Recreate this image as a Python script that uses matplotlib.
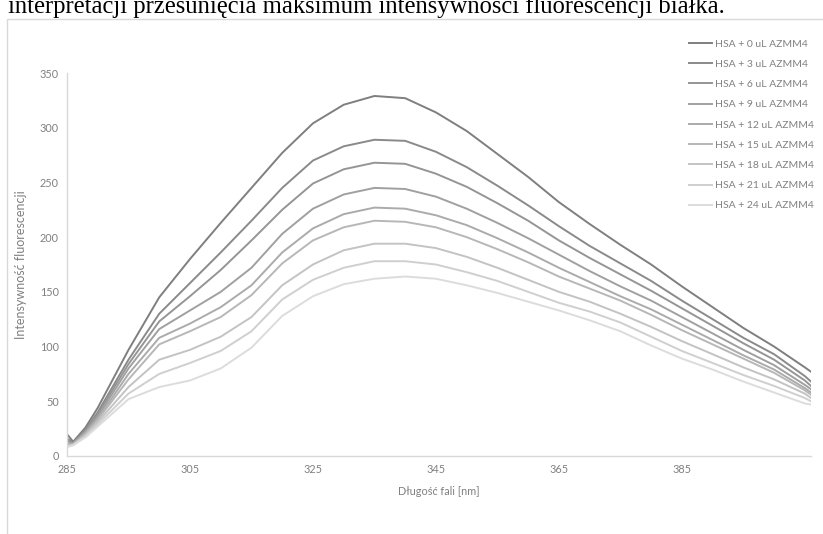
import matplotlib
matplotlib.use("Agg")
import matplotlib.pyplot as plt
from matplotlib.patches import Rectangle

# wavelengths [nm]
wl = [285, 286, 288, 290, 295, 300, 305, 310, 315, 320, 325, 330, 335, 340,
      345, 350, 355, 360, 365, 370, 375, 380, 385, 390, 395, 400, 405, 406]

# fluorescence intensity for each AZMM4 addition
hsa_0 = [20, 13, 26, 44, 97, 145, 180, 213, 245, 277, 304, 321, 329, 327,
         314, 297, 276, 255, 232, 212, 193, 175, 155, 136, 117, 100, 81, 77]
hsa_3 = [16, 12, 24, 40, 88, 130, 158, 186, 215, 245, 270, 283, 289, 288,
         278, 264, 247, 229, 210, 192, 176, 160, 142, 125, 108, 93, 73, 68]
hsa_6 = [14, 12, 23, 38, 84, 123, 146, 170, 197, 225, 249, 262, 268, 267,
         258, 246, 231, 215, 197, 181, 166, 151, 135, 119, 103, 88, 69, 64]
hsa_9 = [12, 11, 22, 36, 80, 116, 133, 150, 172, 203, 226, 239, 245, 244,
         237, 226, 213, 199, 184, 169, 155, 142, 127, 112, 97, 83, 65, 61]
hsa_12 = [11, 11, 21, 34, 75, 108, 121, 136, 156, 186, 208, 221, 227, 226,
          220, 211, 199, 186, 172, 159, 146, 134, 120, 106, 92, 79, 62, 58]
hsa_15 = [10, 11, 20, 33, 70, 102, 114, 127, 147, 176, 197, 209, 215, 214,
          209, 200, 189, 177, 164, 153, 142, 129, 115, 102, 89, 76, 60, 56]
hsa_18 = [9, 10, 19, 31, 63, 88, 97, 109, 127, 156, 175, 188, 194, 194,
          190, 182, 172, 161, 150, 141, 130, 118, 105, 93, 81, 70, 57, 53]
hsa_21 = [9, 10, 18, 29, 57, 75, 85, 96, 114, 143, 161, 172, 178, 178,
          175, 168, 160, 150, 140, 132, 122, 109, 96, 85, 74, 64, 53, 50]
hsa_24 = [8, 10, 17, 27, 52, 63, 69, 80, 99, 128, 146, 157, 162, 164,
          162, 156, 149, 141, 133, 124, 114, 101, 89, 79, 68, 58, 48, 47]

series = [hsa_0, hsa_3, hsa_6, hsa_9, hsa_12, hsa_15, hsa_18, hsa_21, hsa_24]
labels = ["HSA + %d uL AZMM4" % v for v in [0, 3, 6, 9, 12, 15, 18, 21, 24]]
colors = ["#7f7f7f", "#8a8a8a", "#959595", "#a0a0a0", "#ababab",
          "#b7b7b7", "#c3c3c3", "#cfcfcf", "#dcdcdc"]

xticks = [285, 305, 325, 345, 365, 385]
yticks = [0, 50, 100, 150, 200, 250, 300, 350]

plt.rcParams['font.family'] = ['Lato', 'DejaVu Sans']
txt = "#808080"

fig = plt.figure(figsize=(8.23, 5.34), dpi=100)
W, H = 823, 534

# caption line from the document above the chart (cut at top)
fig.text(8 / W, 1 - 13 / H, "interpretacji przesunięcia maksimum intensywności fluorescencji białka.",
         family="Liberation Serif", fontsize=17.7, color="black", va="baseline", ha="left")

# chart frame
fig.patches.append(Rectangle((7 / W, -0.1), 1.0, 1 - 19 / H + 0.1, transform=fig.transFigure,
                             fill=False, edgecolor="#d9d9d9", linewidth=1.0))

ax = fig.add_axes([67 / W, 1 - 456 / H, (811 - 67) / W, (456 - 73) / H])
for s, lab, c in zip(series, labels, colors):
    ax.plot(wl, s, color=c, linewidth=1.4, label=lab)

ax.set_xlim(285, 406)
ax.set_ylim(0, 350)
ax.set_xticks(xticks)
ax.set_yticks(yticks)
ax.tick_params(length=0, labelsize=7.8, labelcolor=txt, pad=6)
for sp in ["top", "right"]:
    ax.spines[sp].set_visible(False)
for sp in ["left", "bottom"]:
    ax.spines[sp].set_color("#d9d9d9")
    ax.spines[sp].set_linewidth(1.0)

ax.set_xlabel("Długość fali [nm]", fontsize=7.8, color=txt, labelpad=8)
ax.set_ylabel("Intensywność fluorescencji", fontsize=9, color=txt, labelpad=9)

leg = ax.legend(loc="upper left", bbox_to_anchor=(680 / W, 1 - 30 / H),
                bbox_transform=fig.transFigure, frameon=False, fontsize=7.5,
                handlelength=2.2, handletextpad=0.3, labelspacing=1.05)
for t in leg.get_texts():
    t.set_color(txt)

fig.savefig("out.png", dpi=100)
